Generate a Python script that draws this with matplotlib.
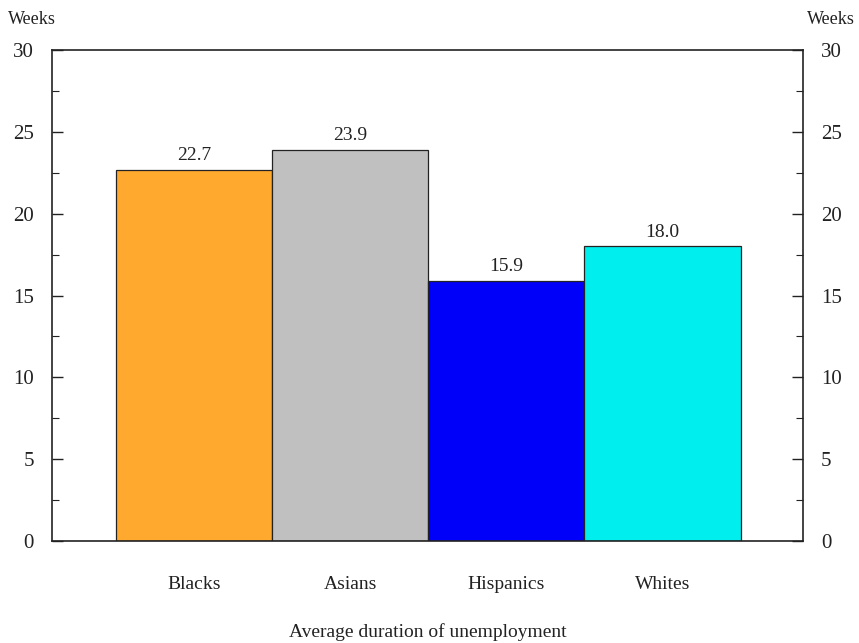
import matplotlib

matplotlib.use("Agg")

import matplotlib.pyplot as plt
from matplotlib.ticker import MultipleLocator


# =========================================
# DATA
# =========================================

groups = ["Blacks", "Asians", "Hispanics", "Whites"]

weeks = [22.7, 23.9, 15.9, 18.0]

bar_colors = ["#FFAA2E", "#C0C0C0", "#0000FA", "#00EEEE"]

y_ticks = [0, 5, 10, 15, 20, 25, 30]


# =========================================
# FIGURE
# =========================================

plt.rcParams["font.family"] = ["Liberation Serif", "DejaVu Serif"]

fig = plt.figure(figsize=(8.59, 6.43), dpi=100)

ax = fig.add_axes([0.0605, 0.1586, 0.8743, 0.7636])

x = list(range(len(groups)))

bars = ax.bar(
    x,
    weeks,
    width=1.0,
    color=bar_colors,
    edgecolor="#222222",
    linewidth=0.9
)

ax.set_xlim(-0.91, 3.9)
ax.set_ylim(0, 30)

ax.set_yticks(y_ticks)
ax.yaxis.set_minor_locator(MultipleLocator(2.5))

ax.tick_params(
    axis="y",
    which="both",
    direction="in",
    left=True,
    right=True,
    labelleft=True,
    labelright=True,
    labelsize=15,
    pad=13,
    colors="#222222"
)

ax.tick_params(axis="y", which="major", length=8, width=1)
ax.tick_params(axis="y", which="minor", length=5, width=0.8)

ax.set_xticks(x)
ax.set_xticklabels(groups, fontsize=14)
ax.tick_params(axis="x", length=0, pad=25, colors="#222222")

for spine in ax.spines.values():
    spine.set_color("#222222")
    spine.set_linewidth(1.2)

# =====================================
# LABELS
# =====================================

for bar, value in zip(bars, weeks):

    ax.text(
        bar.get_x() + bar.get_width() / 2,
        value + 0.35,
        f"{value:.1f}",
        ha="center",
        va="bottom",
        fontsize=14,
        color="#222222"
    )

ax.set_xlabel(
    "Average duration of unemployment",
    fontsize=14,
    labelpad=22,
    color="#222222"
)

fig.text(0.009, 0.970, "Weeks", fontsize=13, ha="left", va="center", color="#222222")
fig.text(0.995, 0.970, "Weeks", fontsize=13, ha="right", va="center", color="#222222")

fig.savefig("out.png", dpi=100)

plt.close(fig)
